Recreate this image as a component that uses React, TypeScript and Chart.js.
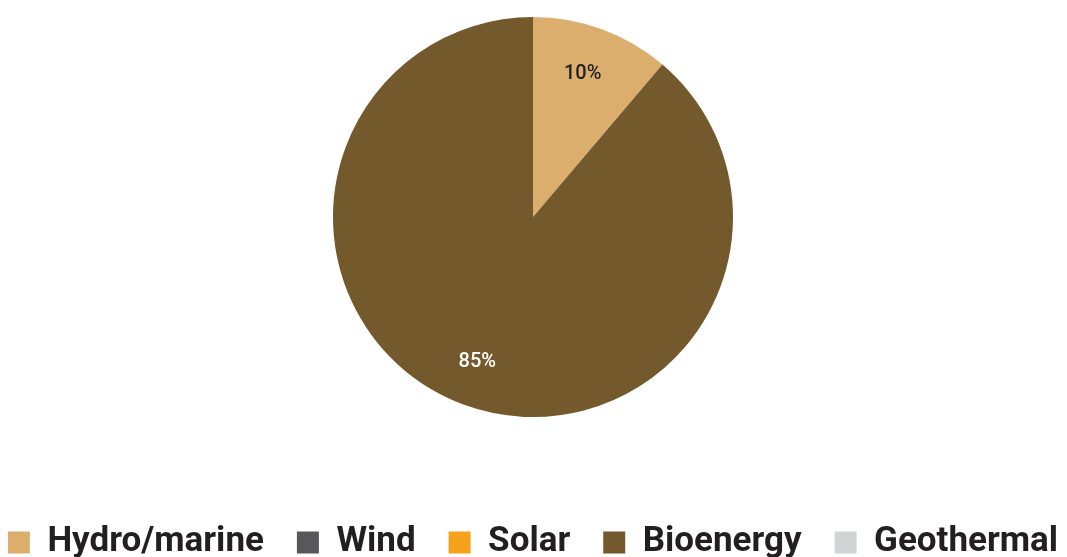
import React, { useEffect, useRef } from "react";
import { Chart, registerables } from "chart.js";

Chart.register(...registerables);

const categories = ["Hydro/marine", "Wind", "Solar", "Bioenergy", "Geothermal"];
const shares = [11.2, 0, 0, 88.8, 0];
const shareLabels = ["10%", "", "", "85%", ""];
const colors = ["#dcae6e", "#58585a", "#f7a21b", "#73592b", "#d1d3d4"];

function isDark(hex: string) {
  const n = parseInt(hex.slice(1), 16);
  const r = (n >> 16) & 255, g = (n >> 8) & 255, b = n & 255;
  return 0.299 * r + 0.587 * g + 0.114 * b < 140;
}

const sliceLabelPlugin = {
  id: "sliceLabels",
  afterDatasetsDraw(chart: any) {
    const meta = chart.getDatasetMeta(0);
    const ctx = chart.ctx;
    ctx.save();
    ctx.font = "500 20px Roboto";
    ctx.textAlign = "center";
    ctx.textBaseline = "middle";
    meta.data.forEach((arc: any, i: number) => {
      const text = shareLabels[i];
      if (!text) return;
      const p = arc.getProps(["x", "y", "startAngle", "endAngle", "outerRadius"], true);
      const mid = (p.startAngle + p.endAngle) / 2;
      const r = p.outerRadius * 0.765;
      ctx.fillStyle = isDark(colors[i]) ? "#ffffff" : "#231f20";
      ctx.fillText(text, p.x + Math.cos(mid) * r - 3, p.y + Math.sin(mid) * r + 1);
    });
    ctx.restore();
  },
};

export default function App() {
  const ref = useRef<HTMLCanvasElement | null>(null);
  useEffect(() => {
    if (!ref.current) return;
    const chart = new Chart(ref.current, {
      type: "pie",
      data: {
        labels: categories,
        datasets: [
          {
            data: shares,
            backgroundColor: colors,
            borderWidth: 0,
            radius: 200,
          } as any,
        ],
      },
      options: {
        animation: false,
        responsive: true,
        maintainAspectRatio: false,
        layout: { padding: 0 },
        plugins: {
          tooltip: { enabled: false },
          legend: {
            position: "bottom",
            title: { display: true, text: "", font: { size: 10 }, padding: { top: 45.8, bottom: 0 } },
            labels: {
              boxWidth: 22,
              boxHeight: 22,
              padding: 33,
              color: "#231f20",
              font: { family: "Roboto", size: 35, weight: "bold" },
            },
          },
        },
      },
      plugins: [sliceLabelPlugin],
    });
    return () => chart.destroy();
  }, []);
  return (
    <div style={{ position: "absolute", left: 0, top: 0, width: 1067, height: 557, overflow: "hidden", background: "#fff" }}>
      <div style={{ position: "absolute", left: -57.5, top: 0, width: 1180, height: 570 }}>
        <canvas ref={ref} />
      </div>
    </div>
  );
}
